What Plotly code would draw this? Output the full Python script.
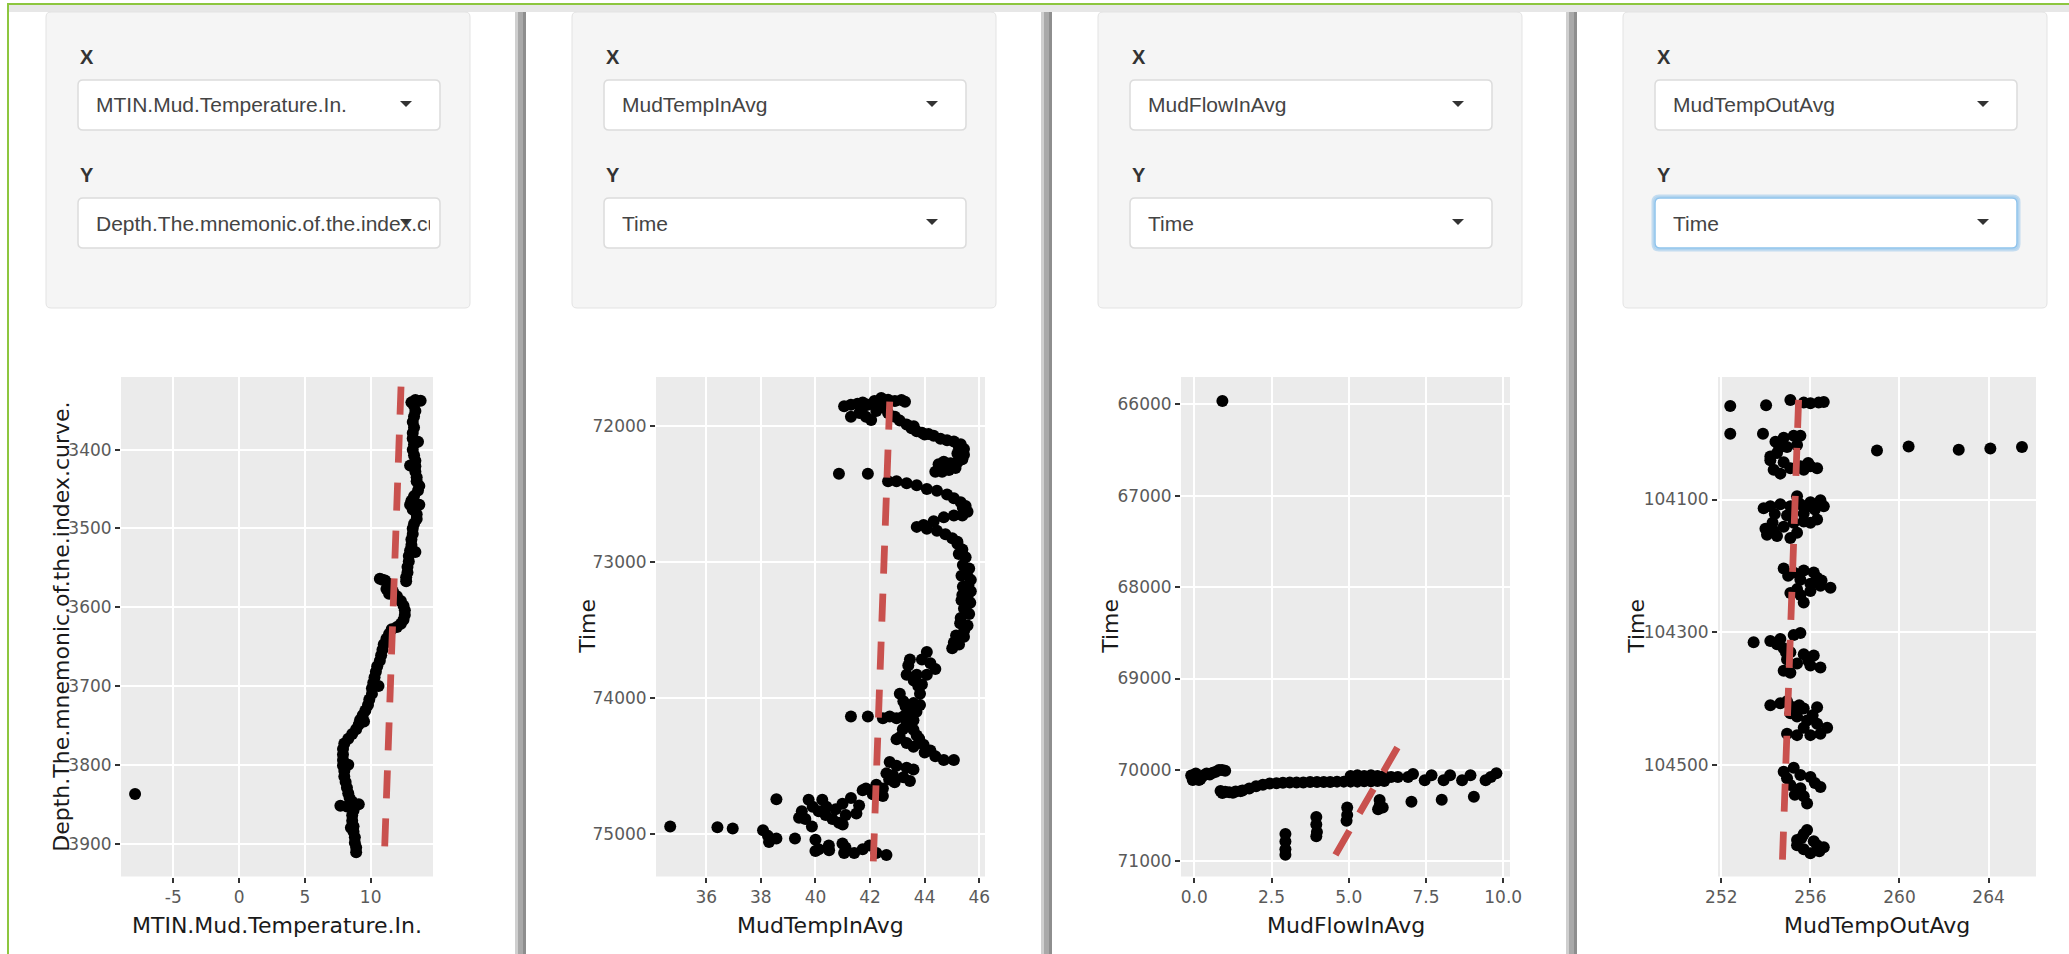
import plotly.graph_objects as go

W, H = 2069, 954

# ---------------- data ----------------
# panel 1: MTIN.Mud.Temperature.In. vs Depth
mtin_points = [
    (13.4, 3337), (13.8, 3338), (13.1, 3340), (13.3, 3344), (13.4, 3351), (13.3, 3358),
    (13.2, 3365), (13.3, 3372), (13.2, 3379), (13.2, 3386), (13.3, 3393), (13.2, 3400),
    (13.3, 3407), (13.4, 3414), (13.4, 3421), (13.4, 3428), (13.5, 3435), (13.5, 3440),
    (13.7, 3446), (13.6, 3452), (13.3, 3459), (13.1, 3465), (13.0, 3470), (13.2, 3476),
    (13.5, 3482), (13.5, 3488), (13.3, 3494), (13.2, 3500), (13.2, 3507), (13.1, 3514),
    (13.1, 3521), (13.0, 3528), (12.9, 3535), (12.9, 3542), (12.8, 3549), (12.8, 3556),
    (12.7, 3562), (12.7, 3567), (13.6, 3390), (13.0, 3420), (13.7, 3470), (13.4, 3530),
    (10.7, 3564), (10.9, 3565), (11.1, 3566), (11.3, 3570), (11.2, 3577), (11.4, 3583),
    (11.7, 3580), (12.0, 3586), (12.3, 3592), (12.5, 3598), (12.6, 3604), (12.6, 3610),
    (12.5, 3616), (12.3, 3621), (12.0, 3625), (11.6, 3628), (11.4, 3634), (11.2, 3640),
    (11.0, 3647), (10.9, 3654), (10.8, 3661), (10.7, 3668), (10.5, 3675), (10.4, 3682),
    (10.3, 3689), (10.2, 3696), (10.1, 3703), (10.1, 3710), (9.9, 3717), (9.8, 3724),
    (9.6, 3731), (9.4, 3737), (9.2, 3743), (9.1, 3749), (8.9, 3755), (8.6, 3761),
    (8.3, 3767), (8.0, 3773), (7.9, 3780), (7.9, 3787), (7.9, 3794), (7.9, 3801),
    (8.0, 3808), (8.0, 3815), (8.1, 3822), (8.2, 3829), (8.3, 3836), (8.4, 3842),
    (8.6, 3847), (9.1, 3850), (7.7, 3852), (8.2, 3853), (8.8, 3852), (8.7, 3858),
    (8.6, 3864), (8.6, 3871), (8.7, 3878), (8.7, 3885), (8.8, 3892), (8.8, 3899),
    (8.9, 3905), (8.9, 3911), (10.6, 3700), (9.5, 3745), (8.3, 3800), (8.5, 3880),
    (-7.9, 3837),
]
mtin_fit_x = [12.31, 11.03]
mtin_fit_y = [3320, 3923]

# panel 2: MudTempInAvg vs Time
tempin_points = [
    (41.05, 71852), (41.30, 71841), (41.54, 71833), (41.73, 71824), (41.92, 71841),
    (42.16, 71813), (42.41, 71791), (42.66, 71805), (42.91, 71813), (43.15, 71807),
    (43.28, 71819), (41.30, 71930), (41.61, 71902), (41.85, 71930), (42.04, 71953),
    (42.23, 71888), (42.47, 71860), (42.66, 71902), (41.73, 71860),
    (42.91, 71930), (43.09, 71958), (43.34, 71986), (43.52, 72014), (43.71, 72036),
    (43.90, 72047), (44.14, 72056), (44.33, 72070), (44.58, 72092), (44.82, 72103),
    (45.07, 72112), (45.32, 72131), (45.44, 72167), (45.44, 72209), (45.38, 72243),
    (45.20, 72265), (44.95, 72271), (44.70, 72260), (44.51, 72279), (44.39, 72335),
    (44.64, 72335), (44.89, 72321), (45.13, 72307), (43.60, 72000), (44.00, 72060),
    (45.25, 72150), (45.20, 72200),
    (40.86, 72349), (41.92, 72349),
    (42.66, 72405), (42.97, 72405), (43.34, 72419), (43.71, 72433), (44.08, 72461),
    (44.45, 72474), (44.82, 72502), (45.07, 72530), (45.32, 72558), (45.50, 72586),
    (45.57, 72628), (45.38, 72656), (45.07, 72656), (44.70, 72670), (44.33, 72698),
    (43.96, 72726), (43.71, 72740), (44.08, 72754), (44.45, 72768), (44.76, 72795),
    (45.01, 72823), (45.20, 72865), (45.38, 72907), (45.50, 72963), (45.63, 73047),
    (45.69, 73130), (45.69, 73214), (45.57, 73256), (45.38, 73242), (45.67, 73298),
    (45.44, 73340), (45.63, 73382), (45.32, 73410), (45.57, 73465), (45.44, 73549),
    (45.20, 73577), (45.07, 73591), (45.26, 73605), (45.01, 73633), (45.40, 72600),
    (45.20, 72850), (45.55, 73090), (45.60, 73170), (45.50, 73340), (45.45, 73500),
    (45.25, 72940), (45.40, 73020), (45.35, 73100), (45.40, 73180), (45.35, 73280),
    (45.30, 73450), (45.15, 73540),
    (44.08, 73661), (43.90, 73716), (43.46, 73716), (44.21, 73744), (44.39, 73786),
    (43.34, 73828), (43.71, 73828), (44.08, 73828), (43.77, 73912), (43.83, 73968),
    (43.09, 73968), (43.22, 74023), (43.59, 74037), (43.83, 74051), (43.46, 74107),
    (43.22, 74135), (42.97, 74149), (42.72, 74135), (42.47, 74149), (41.92, 74135),
    (41.30, 74135), (43.59, 74163), (43.34, 74191), (43.59, 74233), (43.71, 74275),
    (43.09, 74289), (42.97, 74303), (43.34, 74330), (43.59, 74358), (43.96, 74344),
    (44.21, 74386), (44.39, 74428), (44.70, 74456), (45.07, 74456),
    (43.40, 73760), (43.60, 73870), (43.90, 73900), (43.30, 74060), (43.70, 74100),
    (43.20, 74230), (43.80, 74300), (44.00, 74400),
    (42.72, 74470), (42.97, 74498), (43.34, 74512), (43.59, 74526), (42.60, 74554),
    (42.84, 74568), (43.22, 74582), (43.46, 74610), (42.23, 74638), (42.47, 74665),
    (41.85, 74665), (42.10, 74707), (42.47, 74721), (41.73, 74679), (42.90, 74620),
    (42.70, 74600),
    (41.30, 74735), (40.99, 74777), (40.74, 74819), (40.62, 74889), (40.86, 74917),
    (41.11, 74861), (40.25, 74749), (40.12, 74833), (40.37, 74861), (39.75, 74749),
    (39.50, 74833), (39.63, 74889), (39.87, 74945), (38.57, 74744), (41.60, 74790),
    (41.50, 74850), (41.00, 74930), (40.40, 74800), (39.90, 74800), (39.40, 74880),
    (34.68, 74945), (36.41, 74950), (36.97, 74959), (38.08, 74972), (38.26, 75014),
    (38.57, 75034), (39.25, 75034), (40.00, 75042), (40.12, 75112), (40.49, 75084),
    (40.99, 75070), (41.05, 75140), (41.42, 75140), (41.73, 75112), (41.98, 75084),
    (42.23, 75140), (42.60, 75154), (40.00, 75126), (38.30, 75060), (40.50, 75120),
    (41.10, 75100),
]
tempin_fit_x = [42.72, 42.10]
tempin_fit_y = [71819, 75307]

# panel 3: MudFlowInAvg vs Time
flowin_points = [
    (0.91, 65963),
    (-0.10, 70060), (0.00, 70090), (0.10, 70070), (0.20, 70100), (0.30, 70060),
    (0.40, 70040), (0.50, 70050), (0.60, 70030), (0.70, 70020), (0.80, 70000),
    (0.90, 70000), (1.00, 70010), (-0.05, 70110), (0.15, 70110), (0.05, 70040),
    (0.91, 70253), (1.13, 70244), (1.34, 70236), (1.56, 70224), (1.78, 70203),
    (2.00, 70178), (2.22, 70161), (2.44, 70149), (2.66, 70145), (2.87, 70141),
    (3.09, 70137), (3.31, 70137), (3.53, 70137), (3.75, 70132), (3.97, 70132),
    (4.19, 70132), (4.40, 70132), (4.62, 70128), (4.84, 70128), (5.06, 70128),
    (5.28, 70128), (5.50, 70124), (5.72, 70124), (5.93, 70120), (6.15, 70120),
    (1.00, 70240), (1.25, 70250), (1.50, 70232), (0.85, 70230),
    (5.06, 70066), (5.28, 70058), (5.50, 70066), (5.72, 70058), (5.93, 70066),
    (6.15, 70066), (6.37, 70078),
    (6.59, 70078), (6.92, 70078), (7.08, 70045), (7.46, 70112), (7.68, 70058),
    (8.07, 70112), (8.28, 70058), (8.67, 70112), (8.94, 70058), (9.43, 70112),
    (9.60, 70078), (9.78, 70037),
    (6.00, 70330), (6.00, 70390), (5.95, 70430), (6.10, 70410),
    (7.03, 70348), (8.01, 70327), (9.05, 70294),
    (4.95, 70410), (4.95, 70493), (4.93, 70556),
    (3.95, 70514), (3.95, 70597), (3.97, 70680), (3.95, 70725),
    (2.95, 70701), (2.95, 70784), (2.95, 70867), (2.95, 70929),
]
flowin_fit_x = [4.57, 6.59]
flowin_fit_y = [70929, 69746]

# panel 4: MudTempOutAvg vs Time
tempout_points = [
    (252.40, 103959), (254.01, 103958), (255.10, 103950), (255.70, 103954),
    (256.00, 103955), (256.37, 103954), (256.60, 103953), (252.40, 104001),
    (253.87, 104001),
    (258.99, 104026), (260.41, 104020), (262.66, 104025), (264.08, 104023),
    (265.50, 104021),
    (254.43, 104013), (254.80, 104007), (255.25, 104004), (255.55, 104004),
    (254.20, 104035), (254.50, 104030), (254.80, 104044), (254.35, 104055),
    (254.65, 104061), (255.10, 104053), (255.55, 104050), (256.00, 104050),
    (256.30, 104053), (254.95, 104021), (255.40, 104018), (255.70, 104055),
    (254.20, 104041), (254.60, 104022), (255.90, 104045),
    (253.90, 104113), (254.20, 104110), (254.65, 104107), (255.10, 104110),
    (255.55, 104107), (256.00, 104104), (256.45, 104101), (256.60, 104110),
    (253.98, 104144), (254.35, 104147), (254.80, 104141), (255.25, 104135),
    (255.70, 104133), (256.00, 104135), (256.30, 104130), (254.05, 104153),
    (254.50, 104155), (255.10, 104158), (254.95, 104124), (255.70, 104121),
    (255.40, 104095), (254.40, 104122), (255.40, 104150), (256.20, 104115),
    (255.90, 104110), (254.30, 104135),
    (254.80, 104204), (255.25, 104210), (255.70, 104207), (256.15, 104210),
    (255.55, 104221), (256.00, 104227), (256.45, 104230), (256.90, 104233),
    (256.30, 104218), (255.10, 104241), (255.55, 104244), (255.70, 104255),
    (255.40, 104235), (256.00, 104238), (255.00, 104215), (256.50, 104222),
    (253.45, 104315), (254.20, 104313), (254.65, 104310), (255.25, 104304),
    (255.55, 104301), (254.80, 104324), (255.10, 104330), (255.70, 104333),
    (256.15, 104335), (254.95, 104341), (255.40, 104347), (256.00, 104350),
    (256.45, 104353), (254.80, 104358), (255.10, 104361), (254.50, 104318),
    (254.90, 104330), (255.90, 104343),
    (254.20, 104410), (254.65, 104407), (254.95, 104404), (255.25, 104413),
    (255.70, 104415), (256.30, 104413), (255.40, 104427), (255.85, 104433),
    (256.30, 104438), (256.75, 104444), (254.95, 104453), (255.40, 104455),
    (256.00, 104455), (256.45, 104453), (255.70, 104444), (255.10, 104422),
    (256.10, 104425), (255.50, 104410),
    (254.80, 104510), (255.25, 104504), (255.55, 104515), (256.00, 104518),
    (256.45, 104533), (255.10, 104530), (255.55, 104535), (255.70, 104547),
    (255.85, 104558), (254.95, 104520), (256.20, 104527), (255.30, 104545),
    (255.40, 104613), (255.70, 104604), (255.85, 104598), (256.15, 104615),
    (256.60, 104624), (255.70, 104627), (256.00, 104633), (255.40, 104621),
    (256.30, 104621), (255.60, 104610), (256.40, 104630),
]
tempout_fit_x = [255.47, 254.72]
tempout_fit_y = [103950, 104667]

# tick values / labels
p1_xticks, p1_xlabels = [-5, 0, 5, 10], ["-5", "0", "5", "10"]
p1_yticks = [3400, 3500, 3600, 3700, 3800, 3900]
p2_xticks = [36, 38, 40, 42, 44, 46]
p2_yticks = [72000, 73000, 74000, 75000]
p3_xticks, p3_xlabels = [0, 2.5, 5, 7.5, 10], ["0.0", "2.5", "5.0", "7.5", "10.0"]
p3_yticks = [66000, 67000, 68000, 69000, 70000, 71000]
p4_xticks = [252, 256, 260, 264]
p4_yticks = [104100, 104300, 104500]

x_vars = ["MTIN.Mud.Temperature.In.", "MudTempInAvg", "MudFlowInAvg", "MudTempOutAvg"]
y_vars = ["Depth.The.mnemonic.of.the.index.curve.", "Time", "Time", "Time"]

# ---------------- layout geometry (pixels) ----------------
PLOT_L = [121, 656, 1181, 1718]
PLOT_R = [433, 985, 1510, 2036]
PLOT_T, PLOT_B = 377, 876.5
X_RANGES = [[-8.97, 14.74], [34.16, 46.21], [-0.43, 10.22], [251.85, 266.13]]
Y_RANGES = [[3941.8, 3307.8], [75313, 71637], [71166, 65701], [104668, 103915.4]]
YTITLE_X = [62, 588, 1111, 1637]
XTITLE_Y = 925
WELL_L = [46, 572, 1098, 1623]
WELL_W = 424
WELL_T, WELL_B = 12, 308
DIVIDERS = [515, 1041, 1566]

AX_FONT = "DejaVu Sans"
UI_FONT = "Liberation Sans, Arial, sans-serif"


def X(p):
    return p / W


def Y(p):
    return 1 - p / H


def rrect(l, t, r, b, rad):
    return (f"M {X(l + rad)},{Y(t)} L {X(r - rad)},{Y(t)} Q {X(r)},{Y(t)} {X(r)},{Y(t + rad)} "
            f"L {X(r)},{Y(b - rad)} Q {X(r)},{Y(b)} {X(r - rad)},{Y(b)} "
            f"L {X(l + rad)},{Y(b)} Q {X(l)},{Y(b)} {X(l)},{Y(b - rad)} "
            f"L {X(l)},{Y(t + rad)} Q {X(l)},{Y(t)} {X(l + rad)},{Y(t)} Z")


def rect(l, t, r, b, color):
    return dict(type="rect", xref="paper", yref="paper", x0=X(l), x1=X(r), y0=Y(b), y1=Y(t),
                fillcolor=color, line=dict(width=0), layer="below")


fig = go.Figure()

series = [
    (mtin_points, mtin_fit_x, mtin_fit_y),
    (tempin_points, tempin_fit_x, tempin_fit_y),
    (flowin_points, flowin_fit_x, flowin_fit_y),
    (tempout_points, tempout_fit_x, tempout_fit_y),
]
xticks = [(p1_xticks, p1_xlabels), (p2_xticks, [str(v) for v in p2_xticks]),
          (p3_xticks, p3_xlabels), (p4_xticks, [str(v) for v in p4_xticks])]
yticks = [p1_yticks, p2_yticks, p3_yticks, p4_yticks]

layout_axes = {}
for i, (pts, fx, fy) in enumerate(series):
    n = "" if i == 0 else str(i + 1)
    fig.add_trace(go.Scatter(
        x=[p[0] for p in pts], y=[p[1] for p in pts], mode="markers",
        marker=dict(color="black", size=12, line=dict(width=0)),
        xaxis="x" + n, yaxis="y" + n, showlegend=False, hoverinfo="skip"))
    fig.add_trace(go.Scatter(
        x=fx, y=fy, mode="lines",
        line=dict(color="#C9514E", width=6.8, dash="28px,20px"),
        xaxis="x" + n, yaxis="y" + n, showlegend=False, hoverinfo="skip"))

    common = dict(showgrid=True, gridcolor="white", gridwidth=2, zeroline=False,
                  showline=False, ticks="outside", ticklen=5, tickwidth=1.5,
                  tickcolor="#333333", fixedrange=True, automargin=False,
                  tickfont=dict(family=AX_FONT, size=17, color="#5a5a5a"))
    layout_axes["xaxis" + n] = dict(
        domain=[X(PLOT_L[i]), X(PLOT_R[i])], range=X_RANGES[i], anchor="y" + n,
        tickmode="array", tickvals=xticks[i][0], ticktext=xticks[i][1], **common)
    layout_axes["yaxis" + n] = dict(
        domain=[Y(PLOT_B), Y(PLOT_T)], range=Y_RANGES[i], anchor="x" + n,
        tickmode="array", tickvals=yticks[i], ticktext=[str(v) for v in yticks[i]],
        **common)

shapes = []
annotations = []

# page frame: green outline and grey header strip
shapes.append(rect(8, 3, W, 5, "#8dc63f"))
shapes.append(rect(9, 5, W, 12, "#e7e7e7"))
shapes.append(rect(7, 3, 9, H, "#8dc63f"))

# column dividers
for d in DIVIDERS:
    shapes.append(rect(d, 12, d + 3, H, "#cfcfcf"))
    shapes.append(rect(d + 3, 12, d + 8, H, "#a9a9a9"))
    shapes.append(rect(d + 8, 12, d + 11, H, "#8e8e8e"))

DD_ROWS = [(80, 130), (198, 248)]
for i, wl in enumerate(WELL_L):
    wr = wl + WELL_W
    shapes.append(dict(type="path", xref="paper", yref="paper",
                       path=rrect(wl, WELL_T, wr, WELL_B, 5),
                       fillcolor="#f5f5f5", line=dict(color="#e3e3e3", width=1), layer="below"))
    ddl, ddr = wl + 32, wl + 32 + 362
    for k, (label, value) in enumerate([("X", x_vars[i]), ("Y", y_vars[i])]):
        t, b = DD_ROWS[k]
        cy = (t + b) / 2
        focused = (i == 3 and k == 1)
        if focused:
            shapes.append(dict(type="path", xref="paper", yref="paper",
                               path=rrect(ddl - 2, t - 2, ddr + 2, b + 2, 6),
                               fillcolor="rgba(102,175,233,0.18)",
                               line=dict(color="rgba(102,175,233,0.35)", width=3),
                               layer="below"))
        shapes.append(dict(type="path", xref="paper", yref="paper",
                           path=rrect(ddl, t, ddr, b, 5), fillcolor="white",
                           line=dict(color="#8fc3ec" if focused else "#dcdcdc", width=1.5),
                           layer="below"))
        # caret
        cx = ddr - 34
        shapes.append(dict(type="path", xref="paper", yref="paper",
                           path=f"M {X(cx - 6)},{Y(cy - 4)} L {X(cx + 6)},{Y(cy - 4)} "
                                f"L {X(cx)},{Y(cy + 2)} Z",
                           fillcolor="#333333", line=dict(width=0), layer="above"))
        annotations.append(dict(
            text=f"<b>{label}</b>", x=X(wl + 32), y=Y(t - 23), xref="paper", yref="paper",
            xanchor="left", yanchor="middle", showarrow=False,
            font=dict(family=UI_FONT, size=20, color="#333333")))
        annotations.append(dict(
            text=value, x=X(ddl + 17), y=Y(cy), xref="paper", yref="paper",
            xanchor="left", yanchor="middle", showarrow=False, align="left",
            width=ddr - 11 - (ddl + 17), borderpad=0,
            font=dict(family=UI_FONT, size=21, color="#444444")))

    # axis titles
    annotations.append(dict(
        text=x_vars[i], x=X((PLOT_L[i] + PLOT_R[i]) / 2), y=Y(XTITLE_Y), xref="paper",
        yref="paper", xanchor="center", yanchor="middle", showarrow=False,
        font=dict(family=AX_FONT, size=22, color="#1a1a1a")))
    annotations.append(dict(
        text=y_vars[i], x=X(YTITLE_X[i]), y=Y((PLOT_T + PLOT_B) / 2), xref="paper",
        yref="paper", xanchor="center", yanchor="middle", showarrow=False, textangle=-90,
        font=dict(family=AX_FONT, size=22, color="#1a1a1a")))

fig.update_layout(
    template="none",
    width=W, height=H, autosize=False,
    margin=dict(l=0, r=0, t=0, b=0, pad=0),
    paper_bgcolor="white", plot_bgcolor="#ebebeb",
    showlegend=False, hovermode=False,
    shapes=shapes, annotations=annotations,
    **layout_axes,
)

fig.write_html("out.html", config={"displayModeBar": False},
               post_script="document.body.style.margin='0';document.body.style.overflow='hidden';")
